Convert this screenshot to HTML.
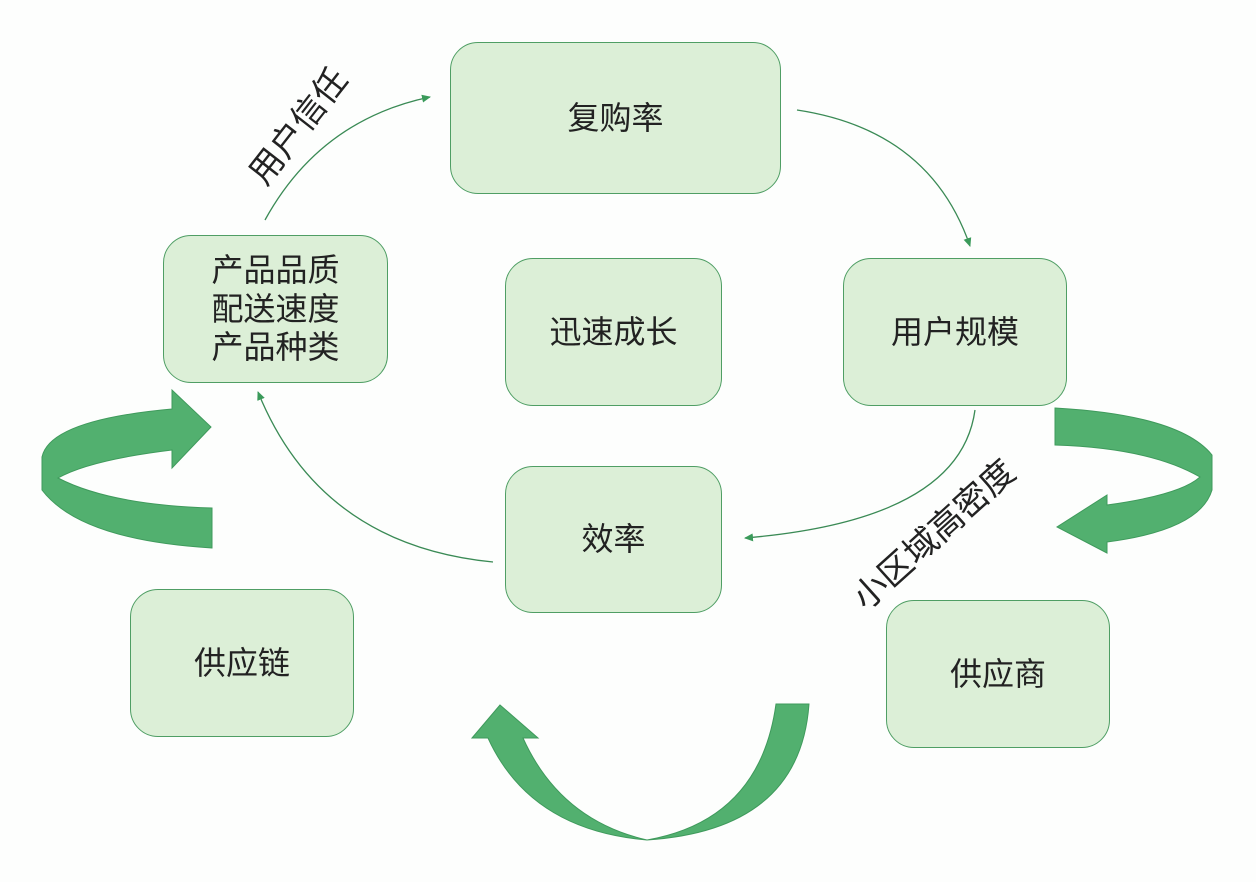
<!DOCTYPE html>
<html><head><meta charset="utf-8"><style>
body{margin:0;background:#fff;}
.b{position:absolute;background:#dcefd7;border:1.5px solid #4f9e64;border-radius:28px;display:flex;align-items:center;justify-content:center;text-align:center;font-family:"Liberation Sans","Noto Sans CJK SC",sans-serif;font-size:32px;color:#222;line-height:1.2;box-sizing:border-box;}
.t{position:absolute;font-family:"Liberation Sans","Noto Sans CJK SC",sans-serif;font-size:34px;color:#222;white-space:nowrap;}
</style></head><body>
<div style="position:relative;width:1256px;height:882px;overflow:hidden;background:#fdfefd">
<svg width="1256" height="882" style="position:absolute;left:0;top:0">
<defs><marker id="a" markerWidth="10" markerHeight="10" refX="8" refY="5" orient="auto" markerUnits="userSpaceOnUse"><path d="M0,1 L9,5 L0,9 Z" fill="#3a9a5a"/></marker></defs>
<g fill="none" stroke="#3a8a55" stroke-width="1.3">
<path d="M265,220 Q320,120 430,97" marker-end="url(#a)"/>
<path d="M797,110 Q930,130 970,246" marker-end="url(#a)"/>
<path d="M975,410 Q960,520 745,538" marker-end="url(#a)"/>
<path d="M493,562 Q320,545 258,392" marker-end="url(#a)"/>
</g>
<g fill="#52b06f" stroke="#3f9a5c" stroke-width="1">
<path d="M172,409 L172,390 L211,427 L172,468 L172,450 Q90,460 58,478 Q110,505 212,508 L212,548 Q80,540 42,490 L42,457 Q50,420 172,409 Z"/>
<path d="M1055,408 Q1180,415 1212,455 L1212,490 Q1200,530 1107,542 L1107,553 L1057,527 L1107,495 L1107,505 Q1180,495 1200,477 Q1150,448 1055,445 Z"/>
<path d="M500,705 L538,738 L523,738 Q560,820 647,840 Q760,820 776,704 L809,704 Q800,830 647,840 Q530,830 488,738 L472,738 Z"/>
</g>
</svg>
<div class="b" style="left:450px;top:42px;width:331px;height:152px;">复购率</div>
<div class="b" style="left:163px;top:235px;width:225px;height:148px;">产品品质<br>配送速度<br>产品种类</div>
<div class="b" style="left:505px;top:258px;width:217px;height:148px;">迅速成长</div>
<div class="b" style="left:843px;top:258px;width:224px;height:148px;">用户规模</div>
<div class="b" style="left:505px;top:466px;width:217px;height:147px;">效率</div>
<div class="b" style="left:130px;top:589px;width:224px;height:148px;">供应链</div>
<div class="b" style="left:886px;top:600px;width:224px;height:148px;">供应商</div>
<div class="t" style="left:228px;top:100px;transform:rotate(-52deg);transform-origin:center;">用户信任</div>
<div class="t" style="left:830px;top:508px;transform:rotate(-42deg);transform-origin:center;">小区域高密度</div>
</div>
</body></html>
